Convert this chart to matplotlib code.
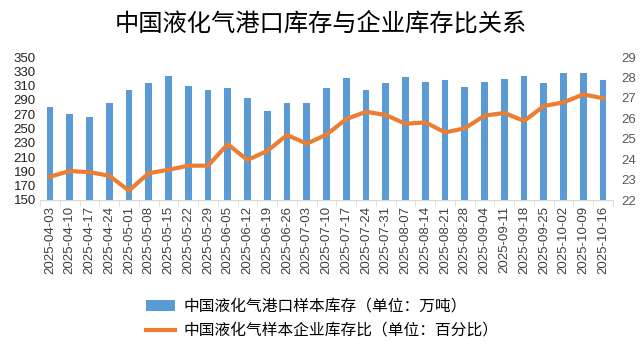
import matplotlib
matplotlib.use('Agg')
import matplotlib.pyplot as plt
import numpy as np
from matplotlib.patches import Patch
from matplotlib.lines import Line2D

plt.rcParams['font.family'] = ['Liberation Sans', 'Noto Sans CJK SC']

dates = ['2025-04-03', '2025-04-10', '2025-04-17', '2025-04-24', '2025-05-01',
         '2025-05-08', '2025-05-15', '2025-05-22', '2025-05-29', '2025-06-05',
         '2025-06-12', '2025-06-19', '2025-06-26', '2025-07-03', '2025-07-10',
         '2025-07-17', '2025-07-24', '2025-07-31', '2025-08-07', '2025-08-14',
         '2025-08-21', '2025-08-28', '2025-09-04', '2025-09-11', '2025-09-18',
         '2025-09-25', '2025-10-02', '2025-10-09', '2025-10-16']
port_stock = [280, 270, 266, 285, 304, 314, 323, 310, 304, 307,
              293, 275, 286, 286, 306, 321, 304, 314, 322, 315,
              318, 308, 315, 319, 323, 314, 327, 327, 318]
company_ratio = [23.14, 23.42, 23.36, 23.19, 22.46, 23.31, 23.48, 23.68, 23.68, 24.73,
                 23.96, 24.40, 25.18, 24.76, 25.20, 25.96, 26.32, 26.16, 25.73, 25.80,
                 25.31, 25.51, 26.13, 26.26, 25.87, 26.60, 26.78, 27.17, 26.98]

bar_label = '中国液化气港口样本库存（单位：万吨）'
line_label = '中国液化气样本企业库存比（单位：百分比）'
title = '中国液化气港口库存与企业库存比关系'

blue = '#5b9bd5'
orange = '#ed7d31'

W, H = 642, 354
fig = plt.figure(figsize=(W / 100, H / 100), dpi=100)
ax = fig.add_axes([40 / W, (H - 200) / H, 573 / W, 143 / H])
ax2 = ax.twinx()

x = np.arange(len(dates))
ax.bar(x, port_stock, width=0.34, color=blue, zorder=2)
ax2.plot(x, company_ratio, color=orange, lw=3, solid_joinstyle='round', zorder=3)

ax.set_xlim(-0.5, len(dates) - 0.5)
ax.set_ylim(150, 350)
ax.set_yticks(range(150, 351, 20))
ax2.set_ylim(22, 29)
ax2.set_yticks(range(22, 30))

ax.set_xticks(x)
ax.set_xticklabels(dates, rotation=90, fontsize=9.5, color='#404040')
ax.set_xticks(np.arange(-0.5, len(dates), 1), minor=True)
ax.tick_params(axis='x', which='major', length=0, pad=4)
ax.tick_params(axis='x', which='minor', length=4, color='#d9d9d9')
ax.tick_params(axis='y', length=0, labelsize=9.5, labelcolor='#222222', pad=3)
ax2.tick_params(axis='y', length=0, labelsize=9.5, labelcolor='#595959', pad=6)

for a in (ax, ax2):
    for s in ('top', 'left', 'right'):
        a.spines[s].set_visible(False)
ax2.spines['bottom'].set_visible(False)
ax.spines['bottom'].set_color('#d9d9d9')

ax.set_zorder(ax2.get_zorder() - 1)
ax2.patch.set_visible(False)

fig.text(0.5, 1 - 24 / H, title, ha='center', va='center', fontsize=17.5,
         family=['Noto Sans CJK SC'])

handles = [Patch(facecolor=blue, edgecolor='none'),
           Line2D([0], [0], color=orange, lw=3)]
fig.legend(handles, [bar_label, line_label], loc='center',
           bbox_to_anchor=(322 / W, 1 - 319 / H), frameon=False,
           handlelength=1.9, handleheight=0.7,
           handletextpad=0.5, labelspacing=0.5,
           prop={'family': ['Noto Sans CJK SC'], 'size': 11.3})

fig.savefig('out.png', dpi=100)
